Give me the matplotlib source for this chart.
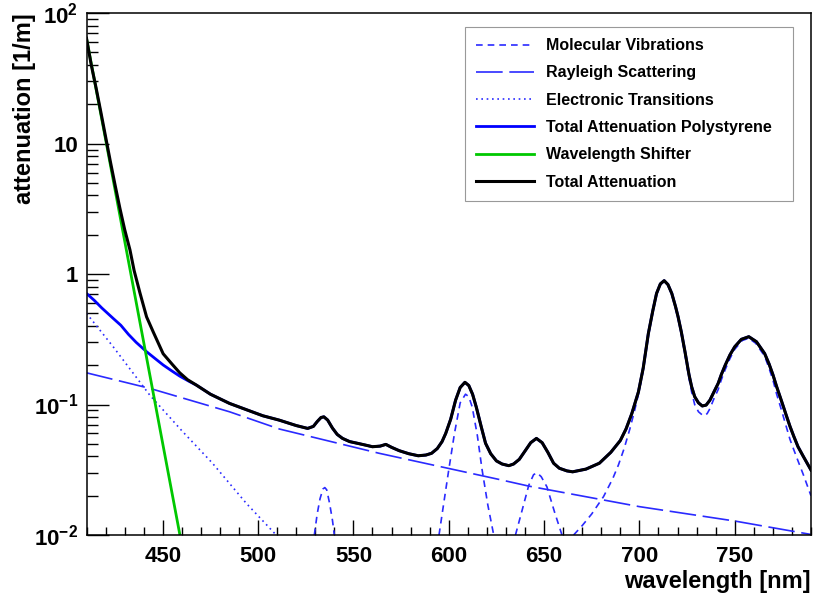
import numpy as np
import matplotlib.pyplot as plt
from matplotlib.ticker import FixedLocator, MultipleLocator, NullFormatter

plt.rcParams['font.family'] = ['Liberation Sans', 'DejaVu Sans']
plt.rcParams['font.weight'] = 'bold'
plt.rcParams['mathtext.fontset'] = 'custom'
plt.rcParams['mathtext.rm'] = 'Liberation Sans:bold'
plt.rcParams['mathtext.bf'] = 'Liberation Sans:bold'
plt.rcParams['mathtext.it'] = 'Liberation Sans:bold'

# Data ========================================================

# total attenuation (black)
wl_total = [410, 412.5, 415, 417.5, 420, 422.5, 425, 427.5, 430, 432.8, 435, 438,
            441.5, 445, 450.2, 455, 458.9, 463, 467.6, 475, 485, 495, 502.5, 511,
            520, 526, 529, 531, 533, 534.5, 536.5, 539, 541.5, 544.3, 548, 552,
            556, 560, 564, 567, 570, 574, 579, 584, 588, 591, 594, 596.5, 598.4,
            601, 603.6, 606, 608.5, 610.5, 612.5, 614.5, 617, 619.3, 622, 625,
            628, 631.5, 634, 637, 640, 643, 646, 649, 652, 655, 658, 662, 665,
            672, 679, 685, 690, 693, 696, 699.5, 702, 704.7, 707, 709, 711, 713,
            715, 717, 719, 720.3, 722, 724, 726, 727.4, 729, 731, 733, 735, 737,
            739, 741.3, 743, 745, 747.5, 750, 753.5, 757.4, 761.4, 765.7, 768,
            770, 772, 774.4, 777, 779, 781, 783.2, 786, 790]
att_total = [64, 40, 26.8, 17.5, 11.3, 7.3, 4.8, 3.2, 2.2, 1.53, 1.06, 0.72,
             0.47, 0.36, 0.245, 0.203, 0.175, 0.155, 0.141, 0.12, 0.102, 0.09,
             0.082, 0.076, 0.069, 0.0656, 0.068, 0.074, 0.0795, 0.0805, 0.076,
             0.066, 0.059, 0.055, 0.052, 0.0505, 0.049, 0.0475, 0.048, 0.0495,
             0.047, 0.0443, 0.042, 0.0405, 0.041, 0.0423, 0.046, 0.052, 0.060,
             0.077, 0.108, 0.135, 0.148, 0.14, 0.12, 0.095, 0.068, 0.0505, 0.042,
             0.037, 0.035, 0.034, 0.035, 0.038, 0.044, 0.051, 0.055, 0.051,
             0.043, 0.0355, 0.0325, 0.031, 0.0305, 0.032, 0.0355, 0.043, 0.053,
             0.065, 0.085, 0.125, 0.19, 0.35, 0.52, 0.71, 0.84, 0.89, 0.83, 0.71,
             0.56, 0.47, 0.36, 0.25, 0.17, 0.137, 0.115, 0.103, 0.0975, 0.099,
             0.108, 0.124, 0.145, 0.17, 0.2, 0.24, 0.277, 0.316, 0.331, 0.303,
             0.246, 0.205, 0.17, 0.137, 0.108, 0.083, 0.068, 0.057, 0.0475, 0.04,
             0.0315]

# total attenuation polystyrene (blue), below ~465 nm it splits from the total
wl_poly_head = [410, 414, 418, 424, 428, 432, 436, 441.5, 446, 450.2, 454.5, 458.9, 464]
att_poly_head = [0.71, 0.63, 0.55, 0.457, 0.405, 0.345, 0.30, 0.254, 0.225, 0.201,
                 0.182, 0.165, 0.15]

# wavelength shifter (green)
wl_wls = [410, 420, 430, 440, 450, 459]
att_wls = [64, 10.8, 1.8, 0.30, 0.050, 0.010]

# rayleigh scattering
wl_ray = [410, 443.2, 485, 511.2, 563.5, 626.2, 642, 700, 750, 790]
att_ray = [0.175, 0.133, 0.088, 0.0649, 0.0423, 0.0267, 0.0237, 0.0165, 0.0128, 0.0101]

# electronic transitions
wl_el = [410, 424, 443.2, 460, 476, 493.8, 509.5]
att_el = [0.50, 0.277, 0.118, 0.063, 0.0356, 0.0175, 0.010]

# molecular vibrations (nan = below the axis)
wl_mol = [529.5, 531, 532.5, 534, 535, 536, 537.5, 539, 540, 560,
          594.9, 597.5, 600, 603, 606, 608.8, 610.5, 612.3, 615, 617.5, 620.5, 623.6, 630,
          635, 638.5, 642, 644.5, 646.3, 648.5, 651.5, 655.5, 659.4, 662,
          665.5, 670, 675, 681.2, 686, 689, 692, 695, 697.5, 699.5, 702, 704.7, 707,
          709, 711, 713, 715, 717, 719, 720.3, 722, 724, 726, 727.4, 729, 731,
          733.5, 735.5, 737, 739, 741.3, 743, 745, 747.5, 750, 754, 757.4, 761,
          765.7, 768, 770, 772, 774.4, 777, 779, 781, 783.2, 786, 790]
att_mol = [0.01, 0.0145, 0.019, 0.0225, 0.0231, 0.0222, 0.0175, 0.013, 0.01, np.nan,
           0.01, 0.018, 0.0315, 0.06, 0.103, 0.12, 0.115, 0.096, 0.058, 0.0316, 0.017,
           0.01, np.nan,
           0.01, 0.0155, 0.0241, 0.029, 0.030, 0.028, 0.0234, 0.015, 0.01, np.nan,
           0.01, 0.0118, 0.0145, 0.0197, 0.027, 0.0344, 0.046, 0.065, 0.09, 0.12,
           0.185, 0.34, 0.51, 0.70, 0.83, 0.88, 0.82, 0.70, 0.55, 0.46, 0.35, 0.24,
           0.16, 0.125, 0.1, 0.088, 0.082, 0.085, 0.093, 0.11, 0.13, 0.155, 0.185,
           0.225, 0.265, 0.31, 0.322, 0.295, 0.235, 0.19, 0.155, 0.12, 0.092,
           0.068, 0.054, 0.045, 0.037, 0.029, 0.02]

wl_poly = wl_poly_head + [w for w in wl_total if w > 464]
att_poly = att_poly_head + [a for w, a in zip(wl_total, att_total) if w > 464]

# Plot ========================================================

fig = plt.figure(figsize=(8.13, 5.94), dpi=100)
ax = fig.add_axes([0.1064, 0.0993, 0.8911, 0.8787])

ax.plot(wl_mol, att_mol, color='#2a2aff', lw=1.2, linestyle=(0, (4, 3)),
        label='Molecular Vibrations')
ax.plot(wl_ray, att_ray, color='#2a2aff', lw=1.2, linestyle=(0, (16, 4)),
        label='Rayleigh Scattering')
ax.plot(wl_el, att_el, color='#2a2aff', lw=1.2, linestyle=(0, (1, 2.2)),
        label='Electronic Transitions')
ax.plot(wl_poly, att_poly, color='#0000ff', lw=2.0,
        label='Total Attenuation Polystyrene')
ax.plot(wl_wls, att_wls, color='#00c800', lw=2.0, label='Wavelength Shifter')
ax.plot(wl_total, att_total, color='black', lw=2.2, label='Total Attenuation')

ax.set_yscale('log')
ax.set_xlim(410, 790)
ax.set_ylim(1e-2, 1e2)

ax.yaxis.set_major_locator(FixedLocator([1e-2, 1e-1, 1, 10, 100]))
ax.set_yticklabels([r'$10^{-2}$', r'$10^{-1}$', '1', '10', r'$10^{2}$'])
minors = [m * 10.0 ** e for e in range(-2, 2) for m in range(2, 10)]
ax.yaxis.set_minor_locator(FixedLocator(minors))
ax.yaxis.set_minor_formatter(NullFormatter())
ax.xaxis.set_major_locator(FixedLocator([450, 500, 550, 600, 650, 700, 750]))
ax.xaxis.set_minor_locator(MultipleLocator(10))

ax.tick_params(axis='both', which='both', direction='in', top=False, right=False,
               labelsize=16, width=1)
ax.tick_params(axis='y', which='major', length=16, pad=6)
ax.tick_params(axis='y', which='minor', length=8)
ax.tick_params(axis='x', which='major', length=11, pad=8)
ax.tick_params(axis='x', which='minor', length=6)
for s in ax.spines.values():
    s.set_linewidth(1.1)

ax.set_xlabel('wavelength [nm]', fontsize=17, fontweight='bold', loc='right',
              labelpad=2)
ax.set_ylabel('attenuation [1/m]', fontsize=17, fontweight='bold', loc='top')
ax.yaxis.set_label_coords(-0.07, 1.0)

leg = ax.legend(loc='upper left',
                bbox_to_anchor=(465 / 813, 1 - 203 / 594, 328 / 813, 176 / 594),
                bbox_transform=fig.transFigure, mode='expand', fontsize=11.5,
                frameon=True, fancybox=False, edgecolor='#999999', framealpha=1,
                handlelength=3.6, handletextpad=0.75, labelspacing=0.77,
                borderpad=0.7, borderaxespad=0)
leg.get_frame().set_linewidth(0.8)

plt.savefig('out.png', dpi=100)
plt.close()
